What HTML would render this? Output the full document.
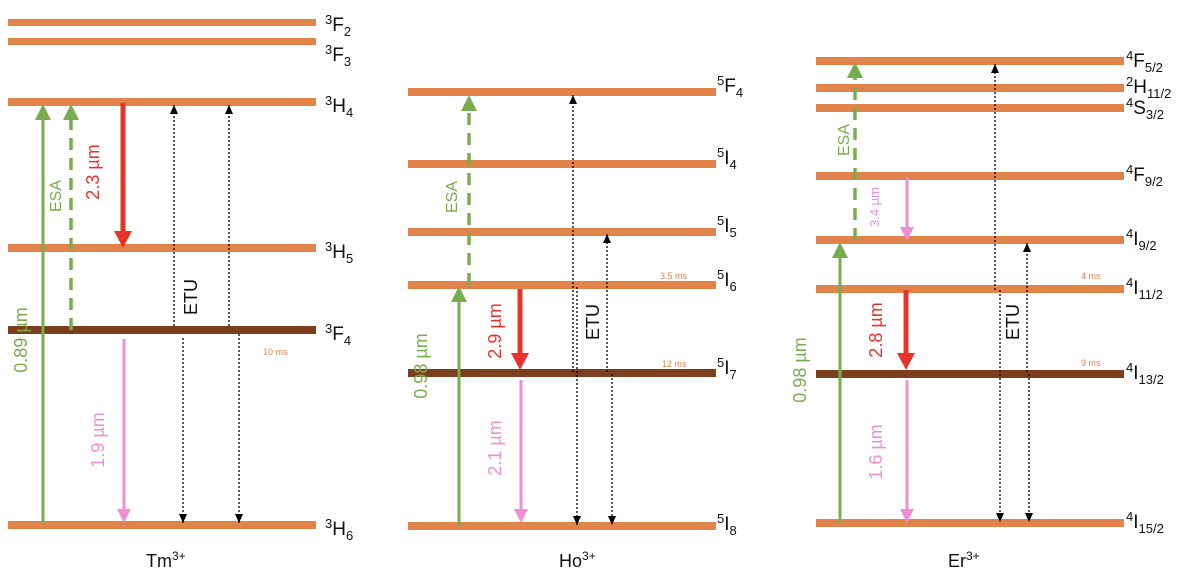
<!DOCTYPE html>
<html><head><meta charset="utf-8"><style>
html,body{margin:0;padding:0;background:#fff;}
svg{display:block;font-family:"Liberation Sans","DejaVu Sans",sans-serif;}
.lv{fill:#E2834A}.br{fill:#7B3F1E}
.lb{font-size:19px;fill:#111}
.s{font-size:13px}
.g{fill:#78AD4F}.r{fill:#E8332A}.p{fill:#EE8FD5}.o{fill:#E2834A;font-size:9px}
.dot{stroke:#000;stroke-width:1.3;stroke-dasharray:2 2;fill:none}
</style></head><body>
<svg width="1200" height="586" viewBox="0 0 1200 586">
<defs>
<marker id="ab" markerWidth="9" markerHeight="8" refX="9" refY="4" orient="auto" markerUnits="userSpaceOnUse"><path d="M0,0 L9,4 L0,8 Z" fill="#000"/></marker>
</defs>
<!-- Tm -->
<rect class="lv" x="8" y="19" width="308" height="7"/>
<rect class="lv" x="8" y="38" width="308" height="7"/>
<rect class="lv" x="8" y="98" width="308" height="8"/>
<rect class="lv" x="8" y="244" width="308" height="8"/>
<rect class="br" x="8" y="326" width="308" height="8"/>
<rect class="lv" x="8" y="521" width="308" height="8"/>
<text class="lb" x="325" y="31"><tspan class="s" dy="-7">3</tspan><tspan dy="7">F</tspan><tspan class="s" dy="5">2</tspan></text>
<text class="lb" x="325" y="61"><tspan class="s" dy="-7">3</tspan><tspan dy="7">F</tspan><tspan class="s" dy="5">3</tspan></text>
<text class="lb" x="325" y="112"><tspan class="s" dy="-7">3</tspan><tspan dy="7">H</tspan><tspan class="s" dy="5">4</tspan></text>
<text class="lb" x="325" y="258"><tspan class="s" dy="-7">3</tspan><tspan dy="7">H</tspan><tspan class="s" dy="5">5</tspan></text>
<text class="lb" x="325" y="340"><tspan class="s" dy="-7">3</tspan><tspan dy="7">F</tspan><tspan class="s" dy="5">4</tspan></text>
<text class="lb" x="325" y="535"><tspan class="s" dy="-7">3</tspan><tspan dy="7">H</tspan><tspan class="s" dy="5">6</tspan></text>
<line x1="43" y1="523" x2="43" y2="118" stroke="#78AD4F" stroke-width="3"/><path d="M35,120 L43,104 L51,120Z" fill="#78AD4F"/>
<line x1="71" y1="330" x2="71" y2="118" stroke="#78AD4F" stroke-width="3.5" stroke-dasharray="12 8"/><path d="M63,120 L71,104 L79,120Z" fill="#78AD4F"/>
<line x1="123" y1="103" x2="123" y2="232" stroke="#E8332A" stroke-width="5"/><path d="M114,231 L123,248 L132,231Z" fill="#E8332A"/>
<line x1="124" y1="339" x2="124" y2="510" stroke="#EE8FD5" stroke-width="3"/><path d="M117,509 L124,523 L131,509Z" fill="#EE8FD5"/>
<line class="dot" x1="174" y1="326" x2="174" y2="105" marker-end="url(#ab)"/>
<line class="dot" x1="229" y1="326" x2="229" y2="105" marker-end="url(#ab)"/>
<line class="dot" x1="183" y1="338" x2="183" y2="523" marker-end="url(#ab)"/>
<line class="dot" x1="239" y1="334" x2="239" y2="523" marker-end="url(#ab)"/>
<text class="g" font-size="16" transform="translate(61,196) rotate(-90)" text-anchor="middle">ESA</text>
<text class="r" font-size="18" transform="translate(99,172) rotate(-90)" text-anchor="middle">2.3 µm</text>
<text class="g" font-size="18" transform="translate(27,340) rotate(-90)" text-anchor="middle">0.89 µm</text>
<text class="p" font-size="18" transform="translate(104,440) rotate(-90)" text-anchor="middle">1.9 µm</text>
<text font-size="18" fill="#111" transform="translate(197,297) rotate(-90)" text-anchor="middle">ETU</text>
<text class="o" x="263" y="355">10 ms</text>
<text font-size="18" fill="#111" x="146" y="567">Tm<tspan font-size="12" dy="-7">3+</tspan></text>
<!-- Ho -->
<rect class="lv" x="408" y="88" width="308" height="8"/>
<rect class="lv" x="408" y="160" width="308" height="8"/>
<rect class="lv" x="408" y="228" width="308" height="8"/>
<rect class="lv" x="408" y="281" width="308" height="8"/>
<rect class="br" x="408" y="369" width="308" height="8"/>
<rect class="lv" x="408" y="522" width="308" height="8"/>
<text class="lb" x="717" y="92"><tspan class="s" dy="-7">5</tspan><tspan dy="7">F</tspan><tspan class="s" dy="5">4</tspan></text>
<text class="lb" x="717" y="164"><tspan class="s" dy="-7">5</tspan><tspan dy="7">I</tspan><tspan class="s" dy="5">4</tspan></text>
<text class="lb" x="717" y="232"><tspan class="s" dy="-7">5</tspan><tspan dy="7">I</tspan><tspan class="s" dy="5">5</tspan></text>
<text class="lb" x="717" y="286"><tspan class="s" dy="-7">5</tspan><tspan dy="7">I</tspan><tspan class="s" dy="5">6</tspan></text>
<text class="lb" x="717" y="374"><tspan class="s" dy="-7">5</tspan><tspan dy="7">I</tspan><tspan class="s" dy="5">7</tspan></text>
<text class="lb" x="717" y="530"><tspan class="s" dy="-7">5</tspan><tspan dy="7">I</tspan><tspan class="s" dy="5">8</tspan></text>
<line x1="459" y1="526" x2="459" y2="300" stroke="#78AD4F" stroke-width="3"/><path d="M451,302 L459,286 L467,302Z" fill="#78AD4F"/>
<line x1="469" y1="285" x2="469" y2="110" stroke="#78AD4F" stroke-width="3.5" stroke-dasharray="12 8"/><path d="M461,111 L469,95 L477,111Z" fill="#78AD4F"/>
<line x1="520" y1="289" x2="520" y2="354" stroke="#E8332A" stroke-width="5"/><path d="M511,353 L520,370 L529,353Z" fill="#E8332A"/>
<line x1="521" y1="380" x2="521" y2="510" stroke="#EE8FD5" stroke-width="3"/><path d="M514,509 L521,523 L528,509Z" fill="#EE8FD5"/>
<line class="dot" x1="573" y1="372" x2="573" y2="95" marker-end="url(#ab)"/>
<line class="dot" x1="607" y1="372" x2="607" y2="234" marker-end="url(#ab)"/>
<line class="dot" x1="577" y1="287" x2="577" y2="525" marker-end="url(#ab)"/>
<line class="dot" x1="612" y1="374" x2="612" y2="525" marker-end="url(#ab)"/>
<text class="g" font-size="16" transform="translate(457,197) rotate(-90)" text-anchor="middle">ESA</text>
<text class="r" font-size="18" transform="translate(501,331) rotate(-90)" text-anchor="middle">2.9 µm</text>
<text class="g" font-size="18" transform="translate(427,366) rotate(-90)" text-anchor="middle">0.98 µm</text>
<text class="p" font-size="18" transform="translate(501,448) rotate(-90)" text-anchor="middle">2.1 µm</text>
<text font-size="18" fill="#111" transform="translate(599,322) rotate(-90)" text-anchor="middle">ETU</text>
<text class="o" x="660" y="279">3.5 ms</text>
<text class="o" x="662" y="367">12 ms</text>
<text font-size="18" fill="#111" x="559" y="567">Ho<tspan font-size="12" dy="-7">3+</tspan></text>
<!-- Er -->
<rect class="lv" x="816" y="57" width="308" height="8"/>
<rect class="lv" x="816" y="84" width="308" height="8"/>
<rect class="lv" x="816" y="104" width="308" height="8"/>
<rect class="lv" x="816" y="172" width="308" height="8"/>
<rect class="lv" x="816" y="236" width="308" height="8"/>
<rect class="lv" x="816" y="285" width="308" height="8"/>
<rect class="br" x="816" y="370" width="308" height="8"/>
<rect class="lv" x="816" y="519" width="308" height="8"/>
<text class="lb" x="1126" y="67"><tspan class="s" dy="-7">4</tspan><tspan dy="7">F</tspan><tspan class="s" dy="5">5/2</tspan></text>
<text class="lb" x="1126" y="93"><tspan class="s" dy="-7">2</tspan><tspan dy="7">H</tspan><tspan class="s" dy="5">11/2</tspan></text>
<text class="lb" x="1126" y="114"><tspan class="s" dy="-7">4</tspan><tspan dy="7">S</tspan><tspan class="s" dy="5">3/2</tspan></text>
<text class="lb" x="1126" y="181"><tspan class="s" dy="-7">4</tspan><tspan dy="7">F</tspan><tspan class="s" dy="5">9/2</tspan></text>
<text class="lb" x="1126" y="245"><tspan class="s" dy="-7">4</tspan><tspan dy="7">I</tspan><tspan class="s" dy="5">9/2</tspan></text>
<text class="lb" x="1126" y="294"><tspan class="s" dy="-7">4</tspan><tspan dy="7">I</tspan><tspan class="s" dy="5">11/2</tspan></text>
<text class="lb" x="1126" y="379"><tspan class="s" dy="-7">4</tspan><tspan dy="7">I</tspan><tspan class="s" dy="5">13/2</tspan></text>
<text class="lb" x="1126" y="528"><tspan class="s" dy="-7">4</tspan><tspan dy="7">I</tspan><tspan class="s" dy="5">15/2</tspan></text>
<line x1="840" y1="523" x2="840" y2="256" stroke="#78AD4F" stroke-width="3"/><path d="M832,258 L840,242 L848,258Z" fill="#78AD4F"/>
<line x1="855" y1="240" x2="855" y2="76" stroke="#78AD4F" stroke-width="3.5" stroke-dasharray="12 8"/><path d="M847,78 L855,62 L863,78Z" fill="#78AD4F"/>
<line x1="907" y1="177" x2="907" y2="228" stroke="#EE8FD5" stroke-width="3"/><path d="M900,227 L907,241 L914,227Z" fill="#EE8FD5"/>
<line x1="906" y1="290" x2="906" y2="354" stroke="#E8332A" stroke-width="5"/><path d="M897,353 L906,370 L915,353Z" fill="#E8332A"/>
<line x1="907" y1="380" x2="907" y2="510" stroke="#EE8FD5" stroke-width="3"/><path d="M900,509 L907,523 L914,509Z" fill="#EE8FD5"/>
<line class="dot" x1="995" y1="290" x2="995" y2="64" marker-end="url(#ab)"/>
<line class="dot" x1="1027" y1="372" x2="1027" y2="243" marker-end="url(#ab)"/>
<line class="dot" x1="1000" y1="290" x2="1000" y2="522" marker-end="url(#ab)"/>
<line class="dot" x1="1029" y1="374" x2="1029" y2="522" marker-end="url(#ab)"/>
<text class="g" font-size="16" transform="translate(849,140) rotate(-90)" text-anchor="middle">ESA</text>
<text class="p" font-size="13" transform="translate(879,207) rotate(-90)" text-anchor="middle">3.4 µm</text>
<text class="g" font-size="18" transform="translate(806,370) rotate(-90)" text-anchor="middle">0.98 µm</text>
<text class="r" font-size="18" transform="translate(882,330) rotate(-90)" text-anchor="middle">2.8 µm</text>
<text class="p" font-size="18" transform="translate(882,452) rotate(-90)" text-anchor="middle">1.6 µm</text>
<text font-size="18" fill="#111" transform="translate(1019,322) rotate(-90)" text-anchor="middle">ETU</text>
<text class="o" x="1081" y="279">4 ms</text>
<text class="o" x="1081" y="366">9 ms</text>
<text font-size="18" fill="#111" x="948" y="567">Er<tspan font-size="12" dy="-7">3+</tspan></text>
</svg>
</body></html>
